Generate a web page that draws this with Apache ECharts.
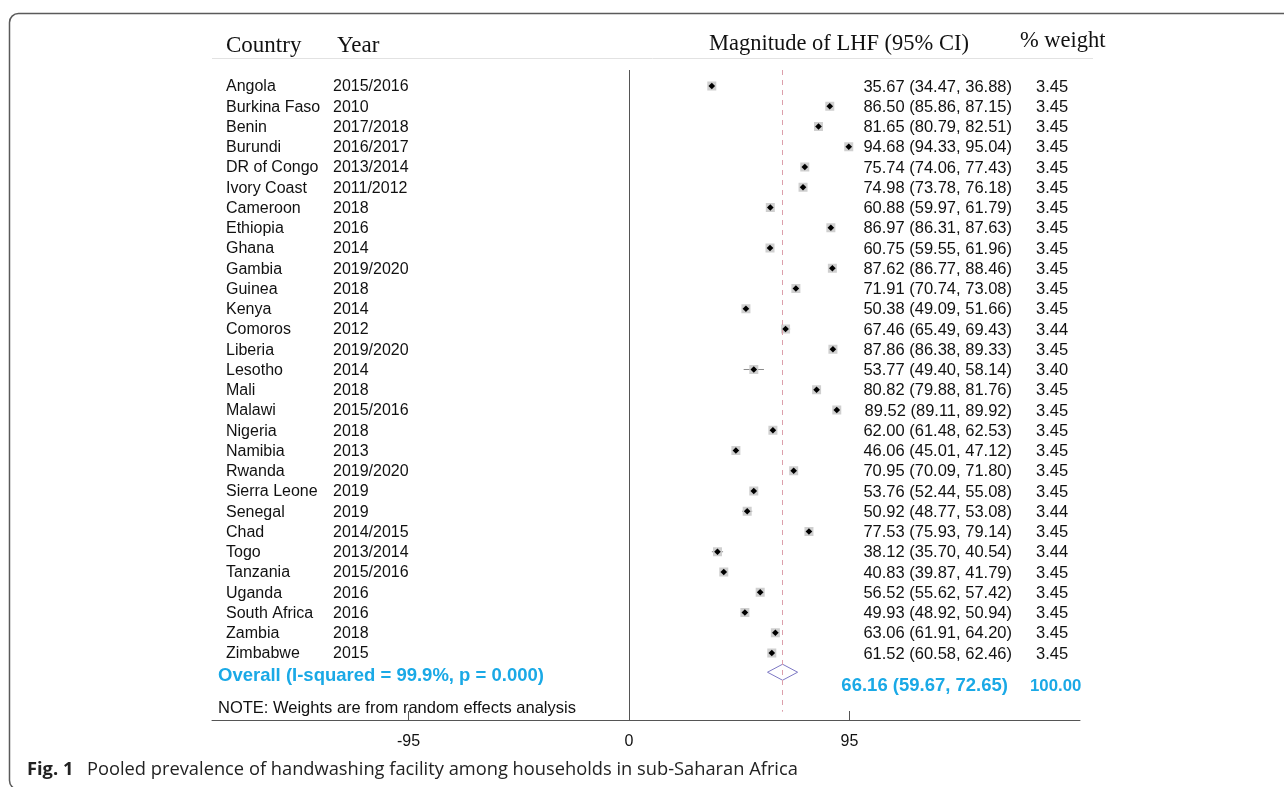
<!DOCTYPE html>
<html>
<head>
<meta charset="utf-8">
<script src="https://cdn.jsdelivr.net/npm/echarts@6/dist/echarts.min.js"></script>
<style>
html,body{margin:0;padding:0;background:#fff;}
#chart{width:1284px;height:787px;}
</style>
</head>
<body>
<div id="chart"></div>
<script>
const countries = ['Angola','Burkina Faso','Benin','Burundi','DR of Congo','Ivory Coast','Cameroon','Ethiopia','Ghana','Gambia','Guinea','Kenya','Comoros','Liberia','Lesotho','Mali','Malawi','Nigeria','Namibia','Rwanda','Sierra Leone','Senegal','Chad','Togo','Tanzania','Uganda','South Africa','Zambia','Zimbabwe'];
const years = ['2015/2016','2010','2017/2018','2016/2017','2013/2014','2011/2012','2018','2016','2014','2019/2020','2018','2014','2012','2019/2020','2014','2018','2015/2016','2018','2013','2019/2020','2019','2019','2014/2015','2013/2014','2015/2016','2016','2016','2018','2015'];
const estimates = [35.67,86.50,81.65,94.68,75.74,74.98,60.88,86.97,60.75,87.62,71.91,50.38,67.46,87.86,53.77,80.82,89.52,62.00,46.06,70.95,53.76,50.92,77.53,38.12,40.83,56.52,49.93,63.06,61.52];
const lowerCI = [34.47,85.86,80.79,94.33,74.06,73.78,59.97,86.31,59.55,86.77,70.74,49.09,65.49,86.38,49.40,79.88,89.11,61.48,45.01,70.09,52.44,48.77,75.93,35.70,39.87,55.62,48.92,61.91,60.58];
const upperCI = [36.88,87.15,82.51,95.04,77.43,76.18,61.79,87.63,61.96,88.46,73.08,51.66,69.43,89.33,58.14,81.76,89.92,62.53,47.12,71.80,55.08,53.08,79.14,40.54,41.79,57.42,50.94,64.20,62.46];
const weights = ['3.45','3.45','3.45','3.45','3.45','3.45','3.45','3.45','3.45','3.45','3.45','3.45','3.44','3.45','3.40','3.45','3.45','3.45','3.45','3.45','3.45','3.44','3.45','3.44','3.45','3.45','3.45','3.45','3.45'];
const overallLabel = 'Overall (I-squared = 99.9%, p = 0.000)';
const overallEst = 66.16;
const overallLo = 59.67;
const overallHi = 72.65;
const overallWeight = '100.00';
const xTicks = [-95, 0, 95];
const headers = ['Country','Year','Magnitude of LHF (95% CI)','% weight'];
const noteText = 'NOTE: Weights are from random effects analysis';
const captionBold = 'Fig. 1';
const captionText = 'Pooled prevalence of handwashing facility among households in sub-Saharan Africa';

const fmt = v => v.toFixed(2);
const SANS = '"Liberation Sans", Arial, Helvetica, sans-serif';
const SERIF = '"Liberation Serif", "Times New Roman", serif';
const CYAN = '#1aa9e6';
const overallRow = countries.length - 0.05;

const chart = echarts.init(document.getElementById('chart'), null, {renderer:'canvas'});

const rowData = countries.map((c, i) => [i, estimates[i], lowerCI[i], upperCI[i]]);

const option = {
  animation: false,
  backgroundColor: '#fff',
  grid: {left: 212, right: 204, top: 58, bottom: 67},
  xAxis: {
    type: 'value', min: -179.66, max: 194.31, position: 'bottom',
    splitLine: {show: false},
    axisLine: {show: true, onZero: false, lineStyle: {color: '#555', width: 1}},
    axisTick: {show: true, inside: true, length: 9, customValues: xTicks, lineStyle: {color: '#555'}},
    axisLabel: {show: true, customValues: xTicks, margin: 14, color: '#111', fontSize: 16, fontFamily: SANS}
  },
  yAxis: {type: 'value', inverse: true, min: -1.383, max: 31.309, show: false, splitLine: {show: false}},
  graphic: [
    {type: 'rect', shape: {x: 9.5, y: 13.5, width: 1400, height: 776, r: 9}, style: {fill: 'none', stroke: '#5a5a5a', lineWidth: 1.5}, silent: true, z: -1},
    {type: 'line', shape: {x1: 212, y1: 58.5, x2: 1093, y2: 58.5}, style: {stroke: '#e2e2e2', lineWidth: 1}},
    {type: 'text', left: 226, top: 34, style: {text: headers[0], font: '23px ' + SERIF, fill: '#111'}},
    {type: 'text', left: 337, top: 34, style: {text: headers[1], font: '23px ' + SERIF, fill: '#111'}},
    {type: 'text', left: 709, top: 33, style: {text: headers[2], font: '22.5px ' + SERIF, fill: '#111'}},
    {type: 'text', left: 1020, top: 30, style: {text: headers[3], font: '22.5px ' + SERIF, fill: '#111'}},
    {type: 'text', left: 218, top: 700, style: {text: noteText, font: '16.5px ' + SANS, fill: '#111'}},
    {type: 'text', left: 27, top: 761, style: {text: captionBold, font: 'bold 18.3px "Open Sans", "Noto Sans", sans-serif', fill: '#222'}},
    {type: 'text', left: 87, top: 761, style: {text: captionText, font: '18.3px "Open Sans", "Noto Sans", sans-serif', fill: '#222'}}
  ],
  series: [
    {
      type: 'custom',
      coordinateSystem: 'cartesian2d',
      clip: false,
      data: rowData,
      encode: {x: [1, 2, 3], y: 0},
      renderItem: function (params, api) {
        const i = params.dataIndex;
        const row = api.value(0);
        const c = api.coord([api.value(1), row]);
        const pl = api.coord([api.value(2), row]);
        const ph = api.coord([api.value(3), row]);
        const y = c[1];
        const s = 4.5, d = 3.3;
        return {
          type: 'group',
          children: [
            {type: 'line', shape: {x1: pl[0], y1: y, x2: ph[0], y2: y}, style: {stroke: '#8a8a8a', lineWidth: 1}},
            {type: 'rect', shape: {x: c[0] - s, y: y - s, width: 2 * s, height: 2 * s}, style: {fill: '#cfcfcf'}},
            {type: 'polygon', shape: {points: [[c[0], y - d], [c[0] + d, y], [c[0], y + d], [c[0] - d, y]]}, style: {fill: '#000'}},
            {type: 'text', x: 226, y: y + 1, style: {text: countries[i], font: '16px ' + SANS, fill: '#111', verticalAlign: 'middle', align: 'left'}},
            {type: 'text', x: 333, y: y + 1, style: {text: years[i], font: '16px ' + SANS, fill: '#111', verticalAlign: 'middle', align: 'left'}},
            {type: 'text', x: 1012, y: y + 1, style: {text: fmt(estimates[i]) + ' (' + fmt(lowerCI[i]) + ', ' + fmt(upperCI[i]) + ')', font: '16.5px ' + SANS, fill: '#111', verticalAlign: 'middle', align: 'right'}},
            {type: 'text', x: 1036, y: y + 1, style: {text: weights[i], font: '16.5px ' + SANS, fill: '#111', verticalAlign: 'middle', align: 'left'}}
          ]
        };
      },
      markLine: {
        silent: true, symbol: 'none', label: {show: false},
        data: [
          [{coord: [0, -0.79]}, {coord: [0, 31.309]}],
          [{coord: [overallEst, -0.79], lineStyle: {color: '#dc9faa', type: [5, 5], width: 1}}, {coord: [overallEst, 30.9]}]
        ],
        lineStyle: {color: '#555', type: 'solid', width: 1}
      }
    },
    {
      type: 'custom',
      coordinateSystem: 'cartesian2d',
      clip: false,
      data: [[overallRow, overallEst, overallLo, overallHi]],
      encode: {x: [1, 2, 3], y: 0},
      renderItem: function (params, api) {
        const row = api.value(0);
        const c = api.coord([api.value(1), row]);
        const pl = api.coord([api.value(2), row]);
        const ph = api.coord([api.value(3), row]);
        const y = c[1], h = 8;
        return {
          type: 'group',
          children: [
            {type: 'polygon', shape: {points: [[pl[0], y], [c[0], y - h], [ph[0], y], [c[0], y + h]]}, style: {fill: 'rgba(255,255,255,0)', stroke: '#7d78c4', lineWidth: 1}},
            {type: 'text', x: 218, y: y + 4, style: {text: overallLabel, font: 'bold 18.5px ' + SANS, fill: CYAN, verticalAlign: 'middle', align: 'left'}},
            {type: 'text', x: 1008, y: y + 14, style: {text: fmt(overallEst) + ' (' + fmt(overallLo) + ', ' + fmt(overallHi) + ')', font: 'bold 18.5px ' + SANS, fill: CYAN, verticalAlign: 'middle', align: 'right'}},
            {type: 'text', x: 1030, y: y + 14, style: {text: overallWeight, font: 'bold 16.8px ' + SANS, fill: CYAN, verticalAlign: 'middle', align: 'left'}}
          ]
        };
      }
    }
  ]
};
chart.setOption(option);
</script>
</body>
</html>
